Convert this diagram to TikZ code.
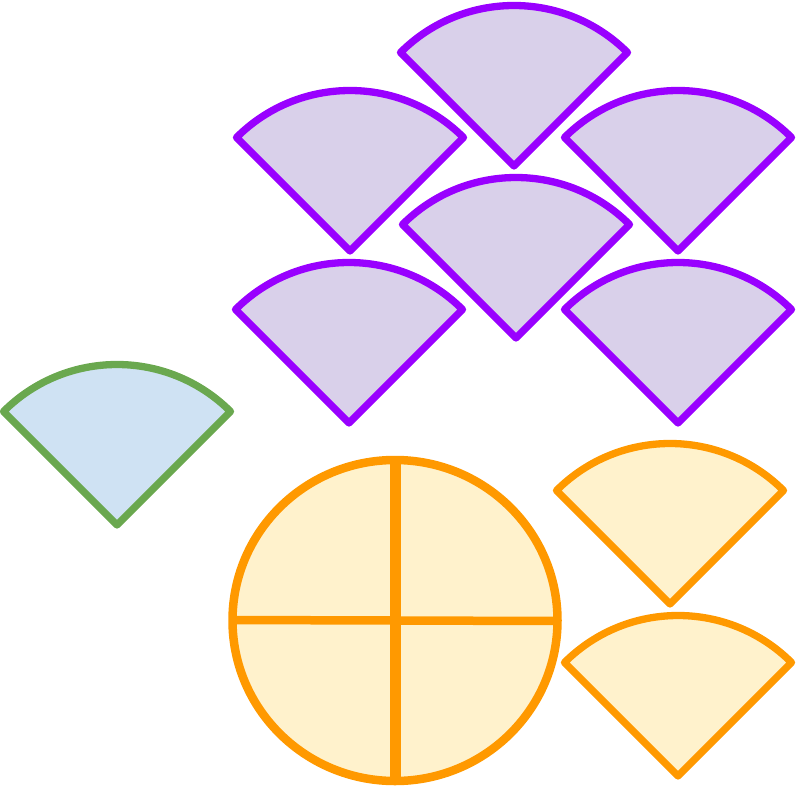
\documentclass[tikz,border=0pt]{standalone}
\definecolor{purpleline}{HTML}{9900FF}
\definecolor{purplefill}{HTML}{D9D0EA}
\definecolor{greenline}{HTML}{6AA84F}
\definecolor{greenfill}{HTML}{CFE2F3}
\definecolor{orangeline}{HTML}{FF9900}
\definecolor{orangefill}{HTML}{FFF2CC}
\begin{document}
\begin{tikzpicture}[x=1pt,y=-1pt,line join=round,line cap=round,
  wedge/.style={line width=7.3pt},
  purplewedge/.style={wedge,draw=purpleline,fill=purplefill},
  greenwedge/.style={wedge,draw=greenline,fill=greenfill},
  orangewedge/.style={wedge,draw=orangeline,fill=orangefill},
  divider/.style={draw=orangeline,line cap=butt},
  pics/sector/.style={code={\path[pic actions] (0,0) -- (225:160.5) arc[start angle=225,end angle=315,radius=160.5] -- cycle;}}]
\useasboundingbox (0,0) rectangle (797,787);
% green
\pic[greenwedge] at (117,525) {sector};
% purple
\pic[purplewedge] at (514,166) {sector};
\pic[purplewedge] at (350,251) {sector};
\pic[purplewedge] at (678,251) {sector};
\pic[purplewedge] at (516,338) {sector};
\pic[purplewedge] at (349,423) {sector};
\pic[purplewedge] at (678,423) {sector};
% orange sectors
\pic[orangewedge] at (670,604) {sector};
\pic[orangewedge] at (678,776) {sector};
% circle
\coordinate (c) at (395,620.5);
\draw[draw=orangeline,fill=orangefill,line width=8.5pt] (c) ellipse[x radius=162.5,y radius=160.5];
\coordinate (vt) at (395.5,460);
\coordinate (vb) at (395.5,781);
\coordinate (hl) at (232.5,620);
\coordinate (hr) at (557.5,621);
\draw[divider,line width=11pt] (vt) -- (vb);
\draw[divider,line width=8.5pt] (hl) -- (hr);
\end{tikzpicture}
\end{document}
